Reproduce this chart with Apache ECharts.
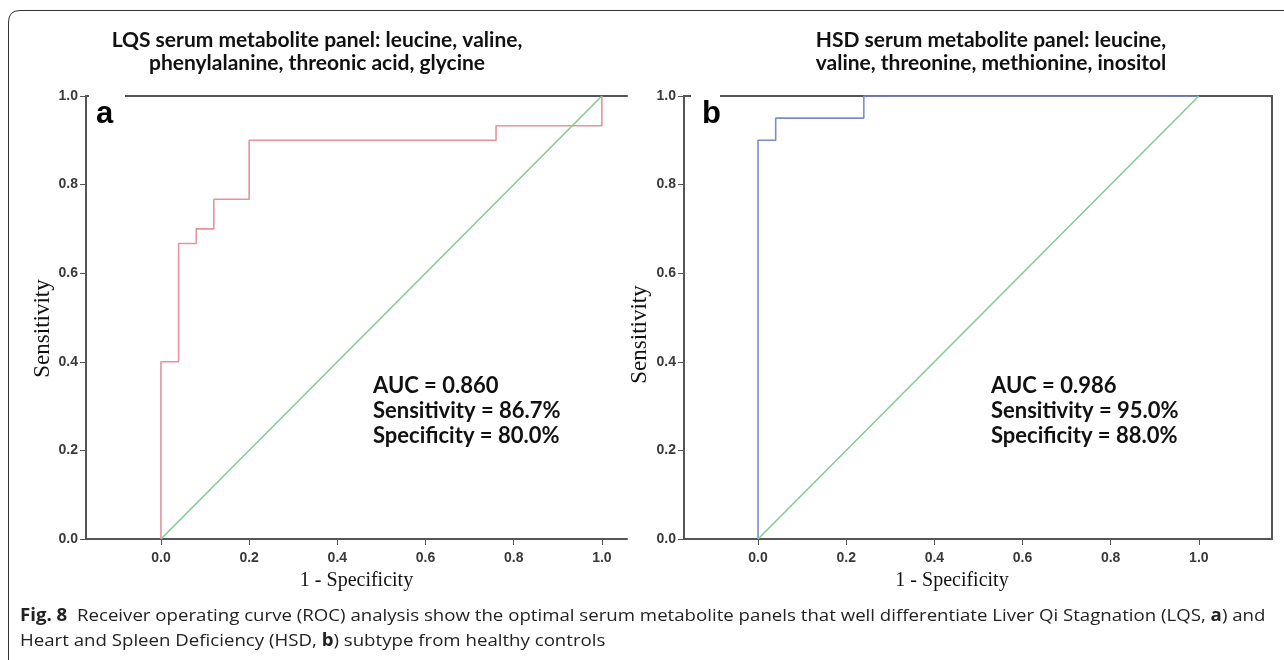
<!DOCTYPE html>
<html><head><meta charset="utf-8">
<script src="https://cdn.jsdelivr.net/npm/echarts@6/dist/echarts.min.js"></script>
<style>html,body{margin:0;padding:0;background:#fff}#c{width:1284px;height:660px}</style>
</head><body><div id="c"></div>
<script>
// ---------- data ----------
const titleA = ['LQS serum metabolite panel: leucine, valine,', 'phenylalanine, threonic acid, glycine'];
const titleB = ['HSD serum metabolite panel: leucine,', 'valine, threonine, methionine, inositol'];
const xTicks = [0, 0.2, 0.4, 0.6, 0.8, 1.0];
const yTicks = [0, 0.2, 0.4, 0.6, 0.8, 1.0];
// ROC corner points, panel a (LQS)
const rocA_fpr = [0, 0, 0.04, 0.04, 0.08, 0.08, 0.12, 0.12, 0.20, 0.20, 0.76, 0.76, 1.0, 1.0];
const rocA_tpr = [0, 0.4, 0.4, 0.667, 0.667, 0.70, 0.70, 0.767, 0.767, 0.90, 0.90, 0.933, 0.933, 1.0];
// ROC corner points, panel b (HSD)
const rocB_fpr = [0, 0, 0.04, 0.04, 0.24, 0.24, 1.0];
const rocB_tpr = [0, 0.90, 0.90, 0.95, 0.95, 1.0, 1.0];
// reference diagonal
const ref_x = [0, 1];
const ref_y = [0, 1];
const statsA = ['AUC = 0.860', 'Sensitivity = 86.7%', 'Specificity = 80.0%'];
const statsB = ['AUC = 0.986', 'Sensitivity = 95.0%', 'Specificity = 88.0%'];
const panelLabels = ['a', 'b'];
const xName = '1 - Specificity';
const yName = 'Sensitivity';
const caption1 = '{b|Fig. 8}  Receiver operating curve (ROC) analysis show the optimal serum metabolite panels that well differentiate Liver Qi Stagnation (LQS, {b|a}) and';
const caption2 = 'Heart and Spleen Deficiency (HSD, {b|b}) subtype from healthy controls';

// ---------- helpers ----------
const zip = (xs, ys) => xs.map((x, i) => [x, ys[i]]);
const AX = '#555';
const tickFont = {fontFamily: 'Liberation Sans', fontSize: 14, fontWeight: 'bold', color: '#3a3a3a'};

function xAxisMain(grid, min, max, namePad) {
  return {
    gridIndex: grid, type: 'value', position: 'bottom', min: min, max: max,
    axisLine: {show: true, onZero: false, lineStyle: {color: AX, width: 2}},
    axisTick: {show: true, customValues: xTicks, length: 6, lineStyle: {color: AX, width: 1}},
    axisLabel: Object.assign({customValues: xTicks, formatter: v => v.toFixed(1), margin: 12}, tickFont),
    splitLine: {show: false},
    name: xName, nameLocation: 'middle', nameGap: 32,
    nameTextStyle: {fontFamily: 'Liberation Serif', fontSize: 20, color: '#111', padding: namePad}
  };
}
function xAxisTop(grid, min, max) {
  return {
    gridIndex: grid, type: 'value', position: 'top', min: min, max: max,
    axisLine: {show: true, onZero: false, lineStyle: {color: AX, width: 2}},
    axisTick: {show: false}, axisLabel: {show: false}, splitLine: {show: false}
  };
}
function yAxisMain(grid, gap, shiftPad) {
  return {
    gridIndex: grid, type: 'value', position: 'left', min: 0, max: 1, interval: 0.2,
    axisLine: {show: true, onZero: false, lineStyle: {color: AX, width: 2}},
    axisTick: {show: true, length: 6, lineStyle: {color: AX, width: 1}},
    axisLabel: Object.assign({formatter: v => v.toFixed(1), margin: 8}, tickFont),
    splitLine: {show: false},
    name: yName, nameLocation: 'middle', nameGap: gap, nameRotate: 90,
    nameTextStyle: {fontFamily: 'Liberation Serif', fontSize: 23, color: '#111', padding: [0, shiftPad, 0, 0]}
  };
}

const chart = echarts.init(document.getElementById('c'), null, {renderer: 'canvas'});
const titleFont = 'bold 21px Lato';
const statFont = 'bold 22px Lato';
const capStyle = {fontFamily: 'Open Sans', fontSize: 17, fill: '#222'};

chart.setOption({
  animation: false,
  backgroundColor: '#fff',
  grid: [
    {left: 86, top: 96, width: 541, height: 443},
    {left: 684, top: 96, width: 588, height: 443}
  ],
  xAxis: [
    xAxisMain(0, -0.17, 1.057, [0, 0, 0, 0]),
    xAxisTop(0, -0.17, 1.057),
    xAxisMain(1, -0.168, 1.166, [0, 52, 0, 0]),
    xAxisTop(1, -0.168, 1.166)
  ],
  yAxis: [
    yAxisMain(0, 31, 22),
    yAxisMain(1, 33, 34),
    {gridIndex: 1, type: 'value', position: 'right', min: 0, max: 1,
     axisLine: {show: true, onZero: false, lineStyle: {color: AX, width: 2}},
     axisTick: {show: false}, axisLabel: {show: false}, splitLine: {show: false}}
  ],
  series: [
    {type: 'line', xAxisIndex: 0, yAxisIndex: 0, data: zip(rocA_fpr, rocA_tpr), showSymbol: false,
     lineStyle: {color: '#e8929a', width: 1.6}, z: 3},
    {type: 'line', xAxisIndex: 0, yAxisIndex: 0, data: zip(ref_x, ref_y), showSymbol: false,
     lineStyle: {color: '#84cc92', width: 1.6}, z: 4},
    {type: 'line', xAxisIndex: 2, yAxisIndex: 1, data: zip(rocB_fpr, rocB_tpr), showSymbol: false,
     lineStyle: {color: '#7d8ccc', width: 1.6}, z: 3},
    {type: 'line', xAxisIndex: 2, yAxisIndex: 1, data: zip(ref_x, ref_y), showSymbol: false,
     lineStyle: {color: '#84cc92', width: 1.6}, z: 4}
  ],
  graphic: [
    {type: 'polyline', z: 100, shape: {points: [[8.5, 660], [8.5, 22]]},
     style: {stroke: '#333', lineWidth: 1, fill: null}},
    {type: 'bezierCurve', z: 100, shape: {x1: 8.5, y1: 22, cpx1: 8.5, cpy1: 10.5, x2: 20, y2: 10.5},
     style: {stroke: '#333', lineWidth: 1, fill: null}},
    {type: 'polyline', z: 100, shape: {points: [[20, 10.5], [1284, 10.5]]},
     style: {stroke: '#333', lineWidth: 1, fill: null}},
    {type: 'rect', z: 100, shape: {x: 89, y: 93, width: 36, height: 6}, style: {fill: '#fff'}},
    {type: 'rect', z: 100, shape: {x: 691, y: 93, width: 29, height: 6}, style: {fill: '#fff'}},
    {type: 'text', z: 100, x: 317, y: 52, style: {text: titleA.join('\n'), font: titleFont, fill: '#111',
      align: 'center', verticalAlign: 'middle', lineHeight: 23}},
    {type: 'text', z: 100, x: 991, y: 52, style: {text: titleB.join('\n'), font: titleFont, fill: '#111',
      align: 'center', verticalAlign: 'middle', lineHeight: 23}},
    {type: 'text', z: 100, x: 96, y: 130, style: {text: panelLabels[0], font: 'bold 31px "Liberation Sans"', fill: '#000',
      align: 'left', verticalAlign: 'bottom'}},
    {type: 'text', z: 100, x: 702, y: 130, style: {text: panelLabels[1], font: 'bold 31px "Liberation Sans"', fill: '#000',
      align: 'left', verticalAlign: 'bottom'}},
    {type: 'text', z: 100, x: 373, y: 411, style: {text: statsA.join('\n'), font: statFont, fill: '#111',
      align: 'left', verticalAlign: 'middle', lineHeight: 25}},
    {type: 'text', z: 100, x: 991, y: 411, style: {text: statsB.join('\n'), font: statFont, fill: '#111',
      align: 'left', verticalAlign: 'middle', lineHeight: 25}},
    {type: 'text', z: 100, x: 20, y: 616, scaleX: 1.097, style: Object.assign({text: caption1,
      align: 'left', verticalAlign: 'middle', rich: {b: Object.assign({fontWeight: 'bold'}, capStyle)}}, capStyle)},
    {type: 'text', z: 100, x: 20, y: 641, scaleX: 1.097, style: Object.assign({text: caption2,
      align: 'left', verticalAlign: 'middle', rich: {b: Object.assign({fontWeight: 'bold'}, capStyle)}}, capStyle)}
  ]
});
</script></body></html>
